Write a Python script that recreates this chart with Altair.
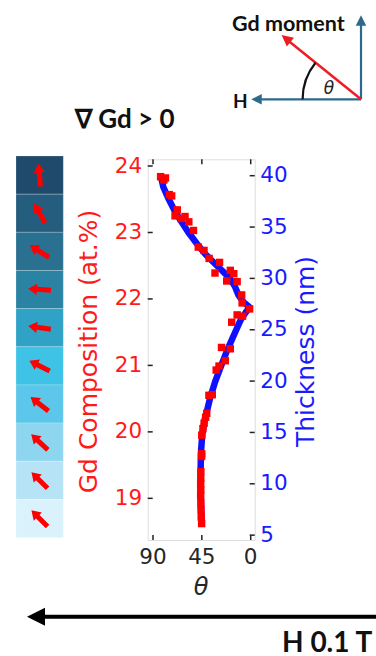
import altair as alt
import pandas as pd

# ---------------- data ----------------
red_theta = [83.0, 78.5, 80.0, 75.0, 72.8, 67.6, 69.7, 64.2, 60.5, 57.0,
             52.7, 48.3, 43.0, 38.3, 28.7, 32.9, 18.8, 15.6, 22.1, 12.5,
             8.3, 7.9, 1.0, 7.5, 12.5, 17.5, 26.9, 18.8, 23.4, 29.2,
             31.8, 35.4, 38.5, 40.5, 41.5, 42.9, 44.0, 45.1, 45.1, 45.3,
             45.9, 46.0, 46.1, 46.0, 46.1, 45.9, 45.8, 45.6, 45.2]
red_gd = [23.84, 23.82, 23.79, 23.57, 23.55, 23.34, 23.25, 23.21, 23.24, 23.16,
          23.03, 22.78, 22.73, 22.61, 22.55, 22.39, 22.43, 22.38, 22.27, 22.26,
          22.06, 21.94, 21.85, 21.74, 21.76, 21.65, 21.27, 21.25, 21.07, 20.99,
          20.93, 20.56, 20.55, 20.28, 20.22, 20.13, 20.05, 19.95, 19.67, 19.63,
          19.40, 19.30, 19.22, 19.13, 19.04, 18.93, 18.83, 18.72, 18.62]

blue_theta = [82.6, 80.5, 75.9, 69.7, 63.6, 57.5, 49.7, 42.1, 34.5, 26.7,
              19.1, 14.5, 11.4, 6.8, 1.0, 4.5, 9.0, 12.9, 17.5, 22.1,
              28.3, 32.9, 37.5, 40.5, 42.1, 44.6, 45.8, 46.1, 46.1, 45.8, 45.1]
blue_thick = [39.9, 38.9, 37.8, 36.5, 35.5, 34.5, 33.4, 32.4, 31.6, 30.8,
              30.0, 29.2, 28.4, 27.7, 27.2, 26.7, 26.0, 25.1, 24.0, 22.9,
              21.2, 19.9, 18.3, 17.0, 16.4, 14.8, 13.1, 11.5, 9.6, 7.9, 6.5]

layer_ids = [1, 2, 3, 4, 5, 6, 7, 8, 9, 10]
layer_colors = ["#1f4a6b", "#255d7e", "#2a7090", "#2b83a4", "#30a2c6",
                "#3ec3e6", "#5cc7ea", "#8ed5f0", "#b6e4f6", "#daf2fb"]
layer_theta = [85, 60, 32, 4, 8, 27, 38, 43, 45, 45]

theta_ticks = [0, 45, 90]
gd_ticks = [19, 20, 21, 22, 23, 24]
thick_ticks = [5, 10, 15, 20, 25, 30, 35, 40]

# ---------------- layout ----------------
OX, OY = 147.7, 159.3
W, H = 107.0, 380.7


def px(x):
    return x - OX


def py(y):
    return y - OY


FONT = "DejaVu Sans"
BOLD = "Lato"
LABEL_SIZE = 21.5

red_df = pd.DataFrame({"theta": red_theta, "gd": red_gd})
blue_df = pd.DataFrame({"theta": blue_theta, "thick": blue_thick})
layer_df = pd.DataFrame({"layer": layer_ids, "th": layer_theta})
one = pd.DataFrame({"a": [0]})

xscale = alt.Scale(domain=[-3.68, 94.88], reverse=True, nice=False, zero=False)
gd_scale = alt.Scale(domain=[18.373, 24.101], nice=False, zero=False)
th_scale = alt.Scale(domain=[4.527, 41.597], nice=False, zero=False)
band_scale = alt.Scale(domain=layer_ids, range=[py(156), py(537.5)],
                       paddingInner=0, paddingOuter=0)

left_axis = alt.Axis(orient="left", values=gd_ticks, ticks=False, domain=False,
                     grid=False, labelFont=FONT, labelFontSize=LABEL_SIZE,
                     labelColor="#ff1a1a", labelPadding=6, title=None)
right_axis = alt.Axis(orient="right", values=thick_ticks, ticks=False,
                      domain=False, grid=False, labelFont=FONT,
                      labelFontSize=LABEL_SIZE, labelColor="#1a1aff",
                      labelPadding=5, title=None)

# heatmap column
cells = alt.Chart(layer_df).mark_rect(stroke="#ffffff", strokeWidth=0.8,
                                      strokeOpacity=0.25).encode(
    x=alt.value(px(16)), x2=alt.value(px(63.3)),
    y=alt.Y("layer:O", scale=band_scale, axis=None),
    color=alt.Color("layer:O", scale=alt.Scale(domain=layer_ids, range=layer_colors),
                    legend=None),
)
ARROW = "M0,-1 L0.5,-0.22 L0.22,-0.22 L0.22,1 L-0.22,1 L-0.22,-0.22 L-0.5,-0.22 Z"
cell_arrows = alt.Chart(layer_df).transform_calculate(
    rot="(270 + datum.th) % 360"
).mark_point(shape=ARROW, filled=True, color="#ff0000", opacity=1,
             size=520, strokeWidth=0).encode(
    x=alt.value(px(39.5)),
    y=alt.Y("layer:O", scale=band_scale, axis=None),
    angle=alt.Angle("rot:Q", scale=None),
)

blue = alt.Chart(blue_df).mark_line(color="#1010ff", strokeWidth=6.5,
                                    strokeCap="round", strokeJoin="round").encode(
    x=alt.X("theta:Q", scale=xscale, axis=None),
    y=alt.Y("thick:Q", scale=th_scale, axis=right_axis),
    order=alt.Order("thick:Q"),
)
red = alt.Chart(red_df).mark_point(shape="square", filled=True, color="#ff0000",
                                   size=55, opacity=1, strokeWidth=0).encode(
    x=alt.X("theta:Q", scale=xscale, axis=None),
    y=alt.Y("gd:Q", scale=gd_scale, axis=left_axis),
)

tdf = pd.DataFrame({"theta": theta_ticks})
ticks_bottom = alt.Chart(tdf).mark_rule(color="#222", strokeWidth=1.5).encode(
    x=alt.X("theta:Q", scale=xscale, axis=None),
    y=alt.value(H), y2=alt.value(H - 5))
ticks_top = alt.Chart(tdf).mark_rule(color="#222", strokeWidth=1.5).encode(
    x=alt.X("theta:Q", scale=xscale, axis=None),
    y=alt.value(0), y2=alt.value(5))
x_labels = alt.Chart(tdf).mark_text(font=FONT, fontSize=LABEL_SIZE, color="#262626",
                                    align="center", baseline="middle").encode(
    x=alt.X("theta:Q", scale=xscale, axis=None),
    y=alt.value(py(558)),
    text=alt.Text("theta:Q", format="d"))
ticks_left = alt.Chart(pd.DataFrame({"gd": gd_ticks})).mark_rule(
    color="#222", strokeWidth=1.5).encode(
    y=alt.Y("gd:Q", scale=gd_scale, axis=None),
    x=alt.value(0), x2=alt.value(5))
ticks_right = alt.Chart(pd.DataFrame({"thick": thick_ticks})).mark_rule(
    color="#222", strokeWidth=1.5).encode(
    y=alt.Y("thick:Q", scale=th_scale, axis=None),
    x=alt.value(W - 5), x2=alt.value(W))


def text(t, x, y, **kw):
    return alt.Chart(one).mark_text(text=t, **kw).encode(
        x=alt.value(px(x)), y=alt.value(py(y)))


def rule(x, y, x2=None, y2=None, **kw):
    enc = dict(x=alt.value(px(x)), y=alt.value(py(y)))
    if x2 is not None:
        enc["x2"] = alt.value(px(x2))
    if y2 is not None:
        enc["y2"] = alt.value(py(y2))
    return alt.Chart(one).mark_rule(**kw).encode(**enc)


def head(x, y, shape, size, color, angle=0):
    return alt.Chart(one).mark_point(shape=shape, filled=True, color=color,
                                     size=size, opacity=1, strokeWidth=0,
                                     angle=angle).encode(
        x=alt.value(px(x)), y=alt.value(py(y)))


LEFT = "M-1,0 L1,-1 L1,1 Z"
UP = "M0,-1 L1,1 L-1,1 Z"
DIAG_BLUE = "#2c6a8d"

titles = [
    text("Gd Composition (at.%)", 89, 351.5, angle=270, font=FONT, fontSize=25,
         color="#ff1a1a", align="center", baseline="middle"),
    text("Thickness (nm)", 306, 351.5, angle=270, font=FONT, fontSize=25,
         color="#1a1aff", align="center", baseline="middle"),
    text("θ", 201, 588, font=FONT, fontSize=24, fontStyle="italic",
         color="#262626", align="center", baseline="middle"),
    text("∇ Gd > 0", 75, 128, font=BOLD, fontSize=26, fontWeight="bold",
         color="#111111", align="left", baseline="alphabetic"),
    text("Gd moment", 232, 31, font=BOLD, fontSize=21.5, fontWeight="bold",
         color="#111111", align="left", baseline="alphabetic"),
    text("H", 233, 108, font=BOLD, fontSize=19, fontWeight="bold",
         color="#111111", align="left", baseline="alphabetic"),
    text("θ", 329, 89, font=FONT, fontSize=17, fontStyle="italic",
         color="#222222", align="center", baseline="middle"),
    text("H 0.1 T", 282, 651.5, font=BOLD, fontSize=28, fontWeight="bold",
         color="#111111", align="left", baseline="alphabetic"),
]

diagram = [
    rule(361, 99.3, x2=258, strokeWidth=2.2, color=DIAG_BLUE),
    head(256.5, 99.3, LEFT, 110, DIAG_BLUE),
    rule(361, 99.3, y2=22, strokeWidth=2.2, color=DIAG_BLUE),
    head(361, 20.5, UP, 110, DIAG_BLUE),
    rule(361, 99.3, x2=288, y2=40.5, strokeWidth=2.5, color="#ee1c24"),
    head(286, 38.5, UP, 130, "#ee1c24", angle=309),
    alt.Chart(one).mark_arc(theta=4.712, theta2=5.39, radius=59.5, radius2=57.3,
                            color="#111111").encode(
        x=alt.value(px(361)), y=alt.value(py(99.3))),
    rule(382, 616.7, x2=40, strokeWidth=4, color="#000000"),
    head(36, 616.7, LEFT, 324, "#000000"),
]

chart = alt.layer(
    cells, cell_arrows, blue, red,
    ticks_bottom, ticks_top, ticks_left, ticks_right, x_labels,
    *titles, *diagram,
).resolve_scale(y="independent").properties(
    width=W, height=H,
    autosize=alt.AutoSizeParams(type="none"),
    padding={"left": OX, "top": OY, "right": 376 - OX - W, "bottom": 656 - OY - H},
).configure_view(stroke="#222222", strokeWidth=1.5).configure(background="white")

chart.save("out.html", embed_options={"renderer": "svg", "actions": False})
